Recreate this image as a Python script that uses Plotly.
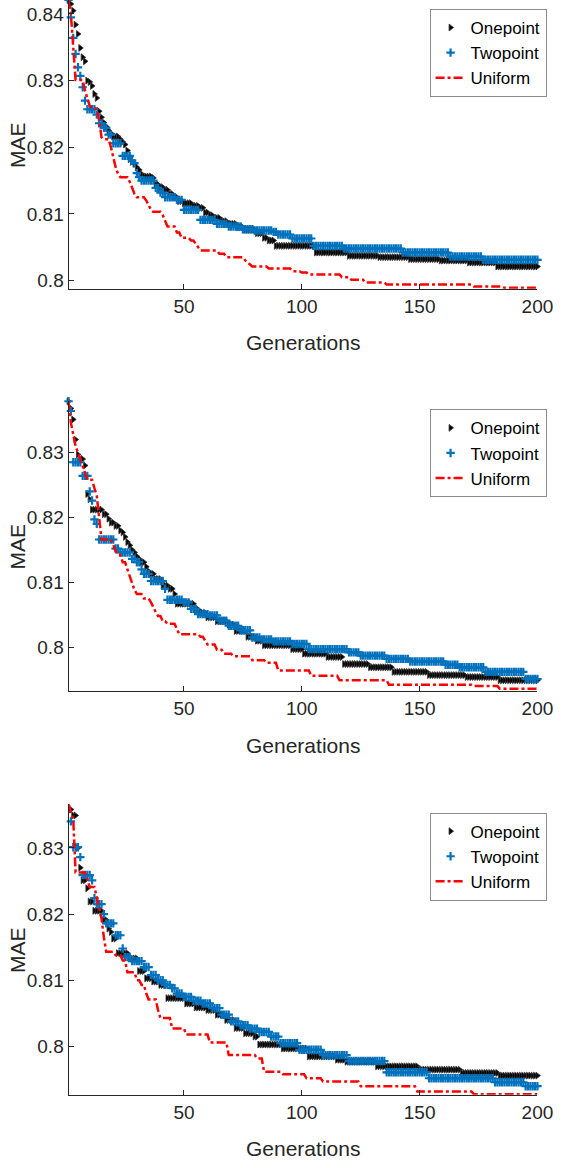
import plotly.graph_objects as go

# ---------------- data ----------------
generations = list(range(1, 201))
x_ticks = [50, 100, 150, 200]
y_ticks = [0.80, 0.81, 0.82, 0.83, 0.84]
y_tick_labels = ["0.8", "0.81", "0.82", "0.83", "0.84"]
series_names = ["Onepoint", "Twopoint", "Uniform"]
x_title = "Generations"
y_title = "MAE"

# Best-so-far MAE, stored as (generation where the value starts, value)
p1_onepoint = [(1, .8421), (2, .8415), (3, .8405), (4, .8384), (5, .8370), (6, .8349), (7, .8335), (8, .8329),
               (9, .8300), (10, .8298), (11, .8292), (12, .8280), (13, .8274), (14, .8254), (15, .8245),
               (16, .8237), (17, .8231), (18, .8225), (19, .8221), (20, .8216), (23, .8212), (24, .8208),
               (25, .8204), (26, .8195), (27, .8182), (28, .8178), (29, .8175), (30, .8170), (31, .8166),
               (32, .8160), (33, .8156), (37, .8154), (38, .8144), (40, .8140), (42, .8136), (44, .8130),
               (46, .8125), (48, .8119), (50, .8116), (54, .8112), (57, .8109), (59, .8102), (61, .8098),
               (63, .8094), (66, .8089), (69, .8085), (73, .8080), (76, .8076), (81, .8071), (84, .8064),
               (86, .8060), (89, .8052), (106, .8042), (120, .8037), (133, .8035), (146, .8032), (159, .8030),
               (171, .8027), (183, .8021)]
p1_twopoint = [(1, .8421), (2, .8395), (3, .8364), (4, .8340), (5, .8320), (6, .8307), (7, .8290), (8, .8270),
               (9, .8257), (13, .8249), (14, .8236), (16, .8229), (18, .8219), (20, .8206), (24, .8187),
               (28, .8180), (29, .8176), (30, .8161), (31, .8155), (32, .8150), (38, .8139), (40, .8132),
               (42, .8125), (47, .8121), (50, .8106), (57, .8091), (64, .8085), (69, .8081), (75, .8077),
               (80, .8075), (88, .8073), (90, .8069), (96, .8063), (105, .8052), (118, .8048), (143, .8042),
               (163, .8036), (177, .8031)]
p1_uniform = [(1, .8421), (2, .8400), (3, .8350), (4, .8301), (8, .8285), (9, .8275), (10, .8262), (11, .8258),
              (14, .8240), (15, .8215), (16, .8212), (19, .8200), (20, .8185), (21, .8170), (22, .8160),
              (23, .8155), (27, .8148), (28, .8138), (29, .8130), (30, .8125), (34, .8120), (35, .8112),
              (36, .8106), (37, .8103), (41, .8098), (42, .8088), (43, .8081), (47, .8072), (49, .8064),
              (53, .8060), (55, .8055), (56, .8050), (57, .8045), (65, .8040), (68, .8035), (76, .8030),
              (77, .8027), (78, .8024), (79, .8021), (86, .8018), (96, .8014), (100, .8012), (103, .8009),
              (117, .8005), (121, .8001), (127, .7997), (136, .7994), (173, .7991), (186, .7989)]

p2_onepoint = [(1, .8379), (2, .8368), (3, .8351), (4, .8320), (5, .8297), (6, .8290), (8, .8280), (9, .8236),
               (10, .8228), (11, .8212), (16, .8205), (18, .8198), (19, .8192), (21, .8187), (23, .8180),
               (24, .8177), (25, .8170), (26, .8162), (27, .8157), (28, .8150), (29, .8146), (30, .8140),
               (31, .8136), (32, .8131), (34, .8124), (35, .8117), (36, .8113), (38, .8105), (41, .8095),
               (44, .8090), (46, .8082), (47, .8067), (55, .8058), (57, .8053), (60, .8046), (64, .8040),
               (69, .8035), (72, .8025), (77, .8016), (81, .8010), (84, .8003), (96, .7997), (101, .7990),
               (111, .7985), (118, .7974), (129, .7969), (139, .7962), (154, .7957), (170, .7954), (184, .7949)]
p2_twopoint = [(1, .8379), (2, .8364), (3, .8285), (7, .8264), (10, .8240), (11, .8226), (12, .8197), (13, .8190),
               (14, .8166), (21, .8152), (23, .8146), (28, .8136), (30, .8131), (32, .8120), (33, .8113),
               (36, .8102), (42, .8090), (43, .8073), (50, .8069), (53, .8059), (56, .8051), (61, .8049),
               (65, .8041), (69, .8033), (74, .8026), (79, .8015), (83, .8012), (88, .8009), (96, .8005),
               (103, .7997), (120, .7992), (125, .7987), (136, .7982), (146, .7978), (161, .7973), (167, .7969),
               (178, .7962), (195, .7951)]
p2_uniform = [(1, .8379), (2, .8346), (3, .8328), (4, .8310), (5, .8300), (6, .8290), (7, .8280), (8, .8268),
              (9, .8258), (12, .8245), (13, .8233), (14, .8200), (15, .8166), (20, .8158), (21, .8148),
              (22, .8142), (24, .8131), (26, .8120), (27, .8110), (28, .8100), (29, .8088), (30, .8082),
              (33, .8075), (36, .8069), (37, .8060), (38, .8054), (39, .8048), (41, .8040), (43, .8036),
              (47, .8028), (48, .8020), (57, .8016), (59, .8010), (60, .8004), (64, .7996), (67, .7990),
              (71, .7986), (79, .7980), (85, .7976), (90, .7964), (104, .7956), (116, .7949), (137, .7942),
              (173, .7940), (184, .7936)]

p3_onepoint = [(1, .8366), (2, .8358), (3, .8349), (5, .8300), (6, .8270), (7, .8251), (9, .8239), (10, .8219),
               (12, .8205), (16, .8191), (18, .8178), (19, .8173), (20, .8163), (22, .8141), (27, .8133),
               (31, .8114), (34, .8103), (37, .8098), (40, .8093), (43, .8073), (51, .8065), (55, .8059),
               (60, .8055), (64, .8048), (68, .8040), (72, .8028), (76, .8020), (80, .8015), (82, .8003),
               (92, .7997), (103, .7985), (115, .7980), (119, .7977), (132, .7970), (150, .7965), (168, .7960),
               (184, .7956)]
p3_twopoint = [(1, .8366), (2, .8340), (3, .8301), (6, .8286), (7, .8259), (11, .8251), (12, .8224), (13, .8215),
               (16, .8200), (17, .8186), (21, .8168), (24, .8148), (25, .8135), (28, .8129), (33, .8120),
               (36, .8108), (39, .8100), (42, .8093), (45, .8088), (47, .8080), (50, .8075), (54, .8069),
               (58, .8065), (62, .8058), (66, .8048), (70, .8038), (74, .8032), (78, .8027), (82, .8022),
               (87, .8015), (91, .8005), (99, .7995), (109, .7987), (120, .7978), (136, .7961), (154, .7952),
               (182, .7946), (195, .7940)]
p3_uniform = [(1, .8366), (2, .8355), (3, .8344), (4, .8263), (9, .8252), (10, .8241), (13, .8225), (14, .8210),
              (15, .8193), (16, .8165), (17, .8143), (21, .8138), (24, .8130), (26, .8112), (30, .8100),
              (32, .8093), (34, .8080), (35, .8071), (39, .8055), (40, .8043), (45, .8027), (51, .8018),
              (61, .8006), (69, .7987), (81, .7982), (84, .7962), (92, .7958), (102, .7952), (109, .7947),
              (125, .7940), (149, .7932), (173, .7928)]

panels = [
    (p1_onepoint, p1_twopoint, p1_uniform),
    (p2_onepoint, p2_twopoint, p2_uniform),
    (p3_onepoint, p3_twopoint, p3_uniform),
]
y_ranges = [(0.79875, 0.8421), (0.79323, 0.83794), (0.7927, 0.83658)]


def hold_steps(steps):
    """Expand (start generation, value) steps to one value per generation."""
    out, j = [], 0
    for g in generations:
        while j + 1 < len(steps) and steps[j + 1][0] <= g:
            j += 1
        out.append(steps[j][1])
    return out


# ---------------- layout geometry (pixels) ----------------
W, H = 569, 1168
x_left, x_right = 70.5, 553.0
panel_px = [(0.0, 289.3), (401.7, 692.3), (805.7, 1096.7)]
legend_top_px = [9.0, 410.0, 814.0]
legend_left_px = 442.0

TXT = "#262626"
FONT = "Liberation Sans, Arial, Helvetica, sans-serif"
BLUE = "#0072BD"

fig = go.Figure()
layout = dict(
    width=W, height=H,
    margin=dict(l=0, r=0, t=0, b=0),
    paper_bgcolor="white", plot_bgcolor="white",
    font=dict(family=FONT, color=TXT, size=18),
    annotations=[],
)

for i, (one, two, uni) in enumerate(panels):
    n = "" if i == 0 else str(i + 1)
    xa, ya = "x" + n, "y" + n
    leg = "legend" + n
    fig.add_trace(go.Scatter(
        x=generations, y=hold_steps(one), name=series_names[0], mode="markers",
        xaxis=xa, yaxis=ya, legend=leg, cliponaxis=False,
        marker=dict(symbol="triangle-right", size=6, color="black",
                    line=dict(color="#333333", width=0.8)),
    ))
    fig.add_trace(go.Scatter(
        x=generations, y=hold_steps(two), name=series_names[1], mode="markers",
        xaxis=xa, yaxis=ya, legend=leg, cliponaxis=False,
        marker=dict(symbol="cross-thin", size=6, color=BLUE,
                    line=dict(color=BLUE, width=2.2)),
    ))
    fig.add_trace(go.Scatter(
        x=generations, y=hold_steps(uni), name=series_names[2], mode="lines",
        xaxis=xa, yaxis=ya, legend=leg,
        line=dict(color="#FF0000", width=2.5, dash="dashdot"),
    ))

    top_px, bot_px = panel_px[i]
    dom_y = [1 - bot_px / H, 1 - top_px / H]
    layout["xaxis" + n] = dict(
        domain=[x_left / W, x_right / W], range=[1, 200], anchor=ya,
        tickvals=x_ticks, ticks="inside", ticklen=5, tickcolor=TXT,
        showline=True, linecolor=TXT, linewidth=1, showgrid=False, zeroline=False,
        tickfont=dict(size=19, color=TXT, family=FONT),
    )
    layout["yaxis" + n] = dict(
        domain=dom_y, range=list(y_ranges[i]), anchor=xa,
        tickvals=y_ticks, ticktext=y_tick_labels, ticks="inside", ticklen=5, tickcolor=TXT,
        showline=True, linecolor=TXT, linewidth=1, showgrid=False, zeroline=False,
        tickfont=dict(size=19, color=TXT, family=FONT),
    )
    layout[leg] = dict(
        x=legend_left_px / W, xanchor="left", y=1 - legend_top_px[i] / H, yanchor="top",
        bgcolor="white", bordercolor="#8c8c8c", borderwidth=1,
        font=dict(size=17, color="black", family=FONT),
        tracegroupgap=0, itemwidth=30,
    )
    layout["annotations"].append(dict(
        text=x_title, xref="paper", yref="paper",
        x=(x_left + x_right) / 2 / W, y=1 - (bot_px + 54) / H,
        xanchor="center", yanchor="middle", showarrow=False,
        font=dict(size=21, color=TXT, family=FONT),
    ))
    layout["annotations"].append(dict(
        text=y_title, xref="paper", yref="paper", textangle=-90,
        x=18 / W, y=1 - (top_px + bot_px) / 2 / H,
        xanchor="center", yanchor="middle", showarrow=False,
        font=dict(size=21, color=TXT, family=FONT),
    ))

fig.update_layout(**layout)
fig.write_html(
    "out.html",
    config={"displayModeBar": False},
    post_script="document.body.style.margin='0';document.body.style.overflow='hidden';",
)
